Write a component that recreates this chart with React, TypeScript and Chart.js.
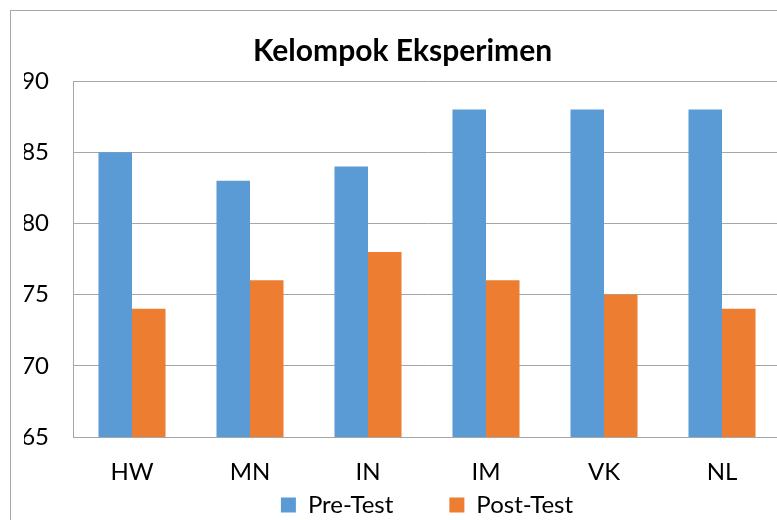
import React, { useEffect, useRef } from "react";
import { Chart, registerables } from "chart.js";

Chart.register(...registerables);

const title = "Kelompok Eksperimen";
const categories = ["HW", "MN", "IN", "IM", "VK", "NL"];
const seriesNames = ["Pre-Test", "Post-Test"];
const preTest = [85, 83, 84, 88, 88, 88];
const postTest = [74, 76, 78, 76, 75, 74];
const yMin = 65;
const yMax = 90;
const yStep = 5;

const BLUE = "#5B9BD5";
const ORANGE = "#ED7D31";
const GRID = "#a6a6a6";
const FONT = "Lato, 'Open Sans', sans-serif";

export default function App() {
  const ref = useRef<HTMLCanvasElement | null>(null);

  useEffect(() => {
    if (!ref.current) return;
    const chart = new Chart(ref.current, {
      type: "bar",
      data: {
        labels: categories,
        datasets: [
          { label: seriesNames[0], data: preTest, backgroundColor: BLUE, borderWidth: 0 },
          { label: seriesNames[1], data: postTest, backgroundColor: ORANGE, borderWidth: 0 },
        ],
      },
      options: {
        responsive: false,
        animation: false,
        devicePixelRatio: 1,
        layout: { padding: { left: 24, right: 19, top: 0, bottom: 0 } },
        datasets: { bar: { barPercentage: 1, categoryPercentage: 0.568 } },
        scales: {
          x: {
            grid: { display: false, drawTicks: false },
            border: { display: true, color: GRID, width: 1 },
            ticks: { color: "#000", font: { family: FONT, size: 24 }, padding: -50, mirror: true, maxRotation: 0, autoSkip: false },
            afterFit: (s: any) => { s.height = 0; },
          },
          y: {
            min: yMin,
            max: yMax,
            grid: { color: GRID, lineWidth: 1, drawTicks: false },
            border: { display: true, color: GRID, width: 1 },
            ticks: { stepSize: yStep, color: "#000", font: { family: FONT, size: 24 }, padding: 24 },
            afterFit: (s: any) => { s.width = 49; },
          },
        },
        plugins: {
          title: {
            display: true,
            text: title,
            color: "#000",
            font: { family: FONT, size: 30, weight: "bold" },
            padding: { top: 33, bottom: 12 },
          },
          legend: {
            position: "bottom",
            fullSize: false,
            labels: {
              color: "#000",
              font: { family: FONT, size: 24 },
              boxWidth: 15,
              boxHeight: 15,
              padding: 56,
            },
          },
          tooltip: { enabled: false },
        },
      },
    });
    return () => chart.destroy();
  }, []);

  return (
    <div style={{ position: "fixed", left: 0, top: 0, width: 777, height: 520, overflow: "hidden", background: "#fff" }}>
      <div style={{ position: "absolute", left: 10, top: 10, width: 800, height: 600, border: `1px solid ${GRID}` }} />
      <canvas ref={ref} width={800} height={527} style={{ position: "absolute", left: 0, top: 0 }} />
    </div>
  );
}
